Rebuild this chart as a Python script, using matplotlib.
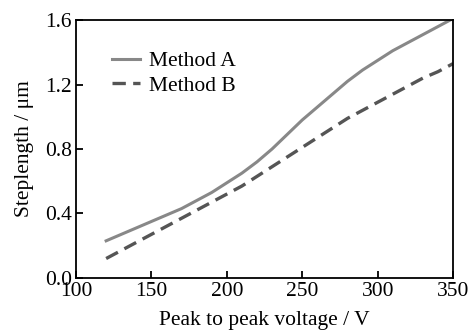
import matplotlib.pyplot as plt
import numpy as np

voltage = [120, 130, 140, 150, 160, 170, 180, 190, 200, 210, 220, 230,
           240, 250, 260, 270, 280, 290, 300, 310, 320, 330, 340, 350]
method_a = [0.23, 0.27, 0.31, 0.35, 0.39, 0.43, 0.48, 0.53, 0.59, 0.65, 0.72, 0.80,
            0.89, 0.98, 1.06, 1.14, 1.22, 1.29, 1.35, 1.41, 1.46, 1.51, 1.56, 1.61]
method_b = [0.12, 0.17, 0.22, 0.27, 0.32, 0.37, 0.42, 0.47, 0.52, 0.57, 0.63, 0.69,
            0.75, 0.81, 0.87, 0.93, 0.99, 1.04, 1.09, 1.14, 1.19, 1.24, 1.28, 1.33]

plt.rcParams['font.family'] = ['Liberation Serif']
plt.rcParams['font.size'] = 15.5

fig, ax = plt.subplots(figsize=(4.69, 3.30), dpi=100)
fig.subplots_adjust(left=0.162, right=0.966, top=0.939, bottom=0.158)

ax.plot(voltage, method_a, color='#888888', lw=2.2, label='Method A')
ax.plot(voltage, method_b, color='#555555', lw=2.4, ls=(0, (4, 2.2)), label='Method B')

ax.set_xlim(100, 350)
ax.set_ylim(0, 1.6)
ax.set_xticks([100, 150, 200, 250, 300, 350])
ax.set_yticks([0.0, 0.4, 0.8, 1.2, 1.6])
ax.set_yticklabels(['0.0', '0.4', '0.8', '1.2', '1.6'])
ax.tick_params(direction='in', length=5, width=1.3, top=False, right=False, pad=3)
for s in ax.spines.values():
    s.set_linewidth(1.3)

ax.set_xlabel('Peak to peak voltage / V', labelpad=7)
ax.set_ylabel('Steplength / μm', labelpad=8)
ax.legend(loc='upper left', frameon=False, bbox_to_anchor=(0.045, 0.955),
          handlelength=1.3, handletextpad=0.4, labelspacing=0.2)

fig.savefig('out.png')
